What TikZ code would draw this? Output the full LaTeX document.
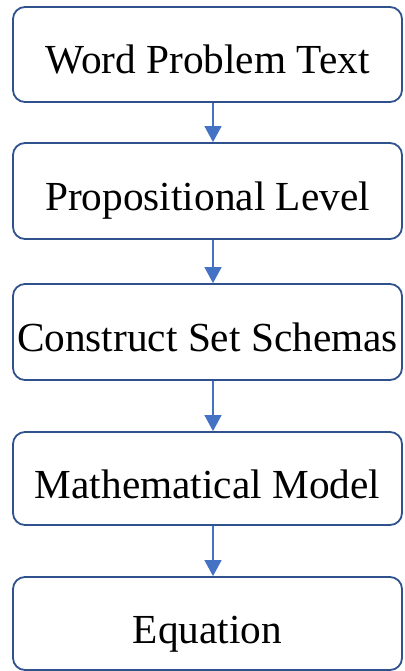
\documentclass[tikz,border=0pt]{standalone}
\usepackage{fontspec}
\setmainfont{Liberation Serif}
\usetikzlibrary{arrows.meta}
\definecolor{boxline}{HTML}{2F528F}
\definecolor{arrowblue}{HTML}{4472C4}
\begin{document}
\begin{tikzpicture}[x=1pt,y=-1pt,
  flowbox/.style={draw=boxline, line width=1.8pt, rounded corners=12pt,
    minimum width=389pt, inner sep=0pt, text height=39pt, text depth=0pt,
    font=\fontsize{41.3}{49}\selectfont, fill=white},
  flowarrow/.style={draw=arrowblue, line width=1.3pt,
    -{Triangle[width=17pt,length=16pt]}}]
\useasboundingbox[fill=white] (0,0) rectangle (404,671);
\node[flowbox, minimum height=95pt] (b1) at (207.5,54.5) {Word Problem Text};
\node[flowbox, minimum height=96pt] (b2) at (207.5,191) {Propositional Level};
\node[flowbox, minimum height=96pt] (b3) at (207.5,332) {Construct Set Schemas};
\node[flowbox, minimum height=93pt] (b4) at (207.5,478.5) {Mathematical Model};
\node[flowbox, minimum height=93pt] (b5) at (207.5,623.5) {Equation};
\coordinate (ax) at (213,0);
\draw[flowarrow] (b1.south -| ax) -- (b2.north -| ax);
\draw[flowarrow] (b2.south -| ax) -- (b3.north -| ax);
\draw[flowarrow] (b3.south -| ax) -- (b4.north -| ax);
\draw[flowarrow] (b4.south -| ax) -- (b5.north -| ax);
\end{tikzpicture}
\end{document}
